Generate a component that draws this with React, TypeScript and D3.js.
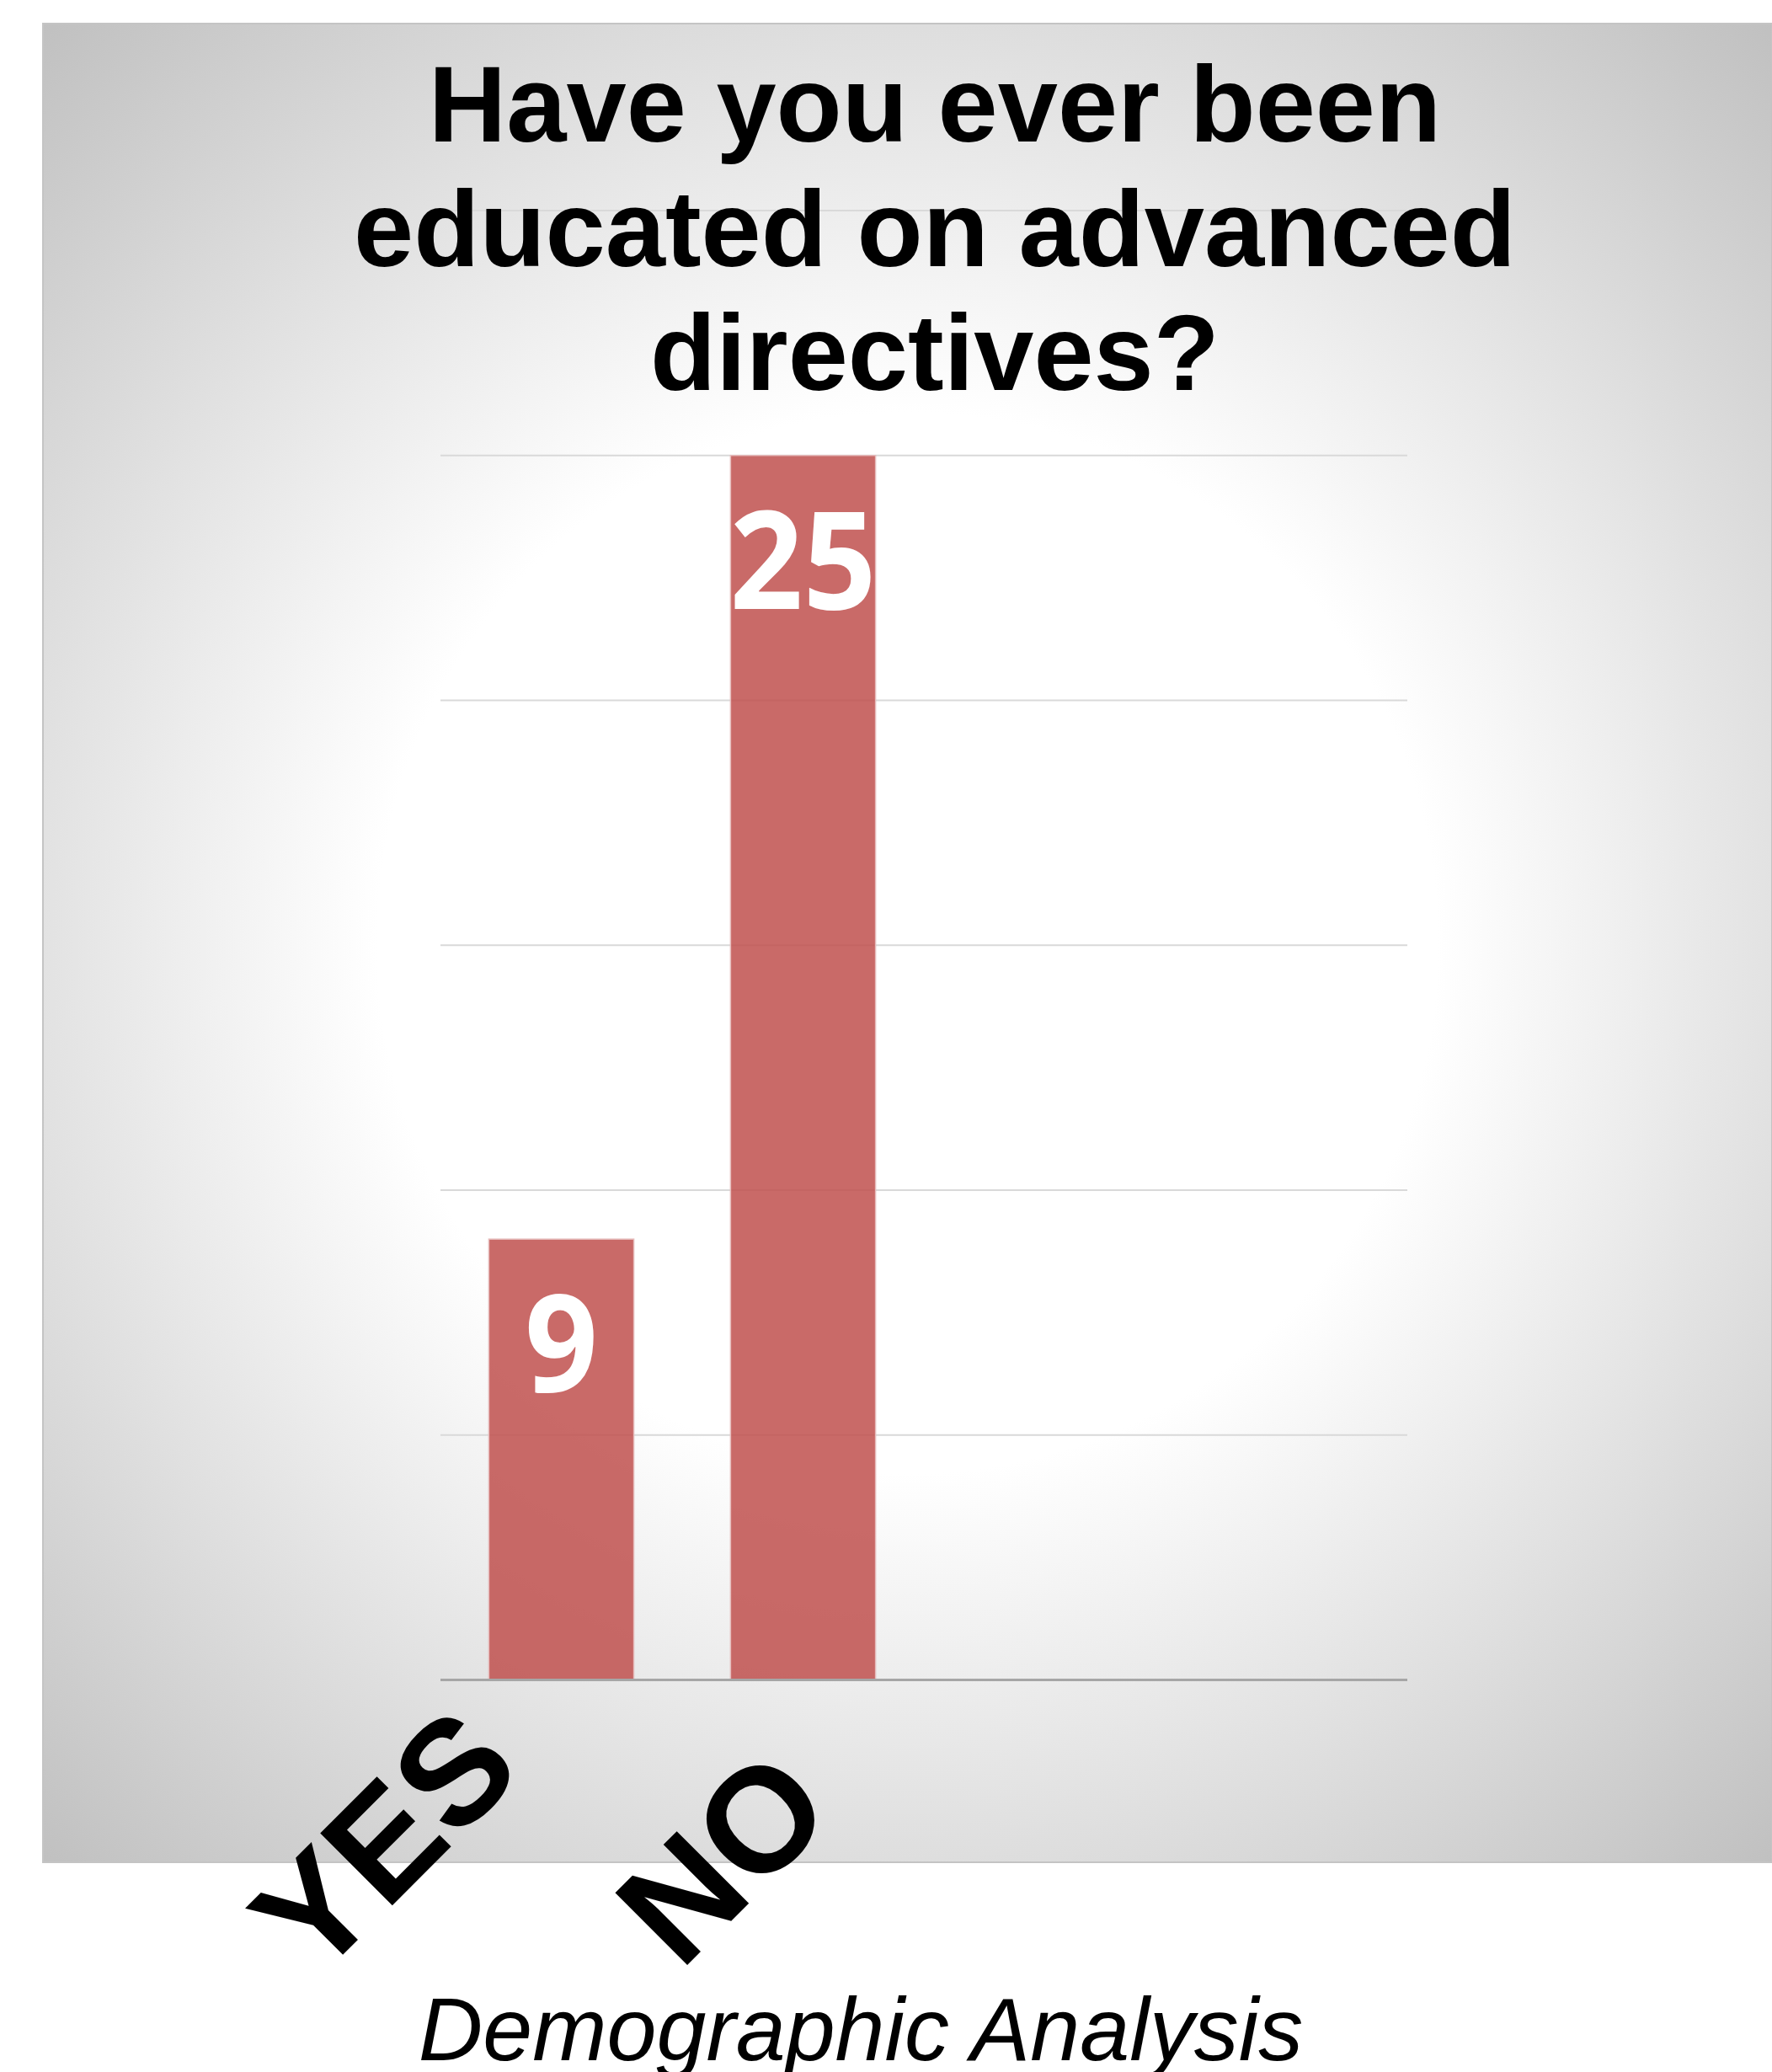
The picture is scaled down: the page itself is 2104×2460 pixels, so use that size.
import React from "react";
import * as d3 from "d3";

// ---- data ----
const categories = ["YES", "NO", "", " "];
const counts = [9, 25];
const titleLines = ["Have you ever been", "educated on advanced", "directives?"];
const yTicks = [0, 5, 10, 15, 20, 25, 30];
const footerText = "Demographic Analysis";

// ---- layout ----
const W = 2104;
const H = 2460;
const panel = { x: 51, y: 28, w: 2104 - 51, h: 2211 - 28 };
const plot = { left: 523, right: 1671, top: 250, bottom: 1994.5 };
// manual placement tweaks of the rotated category labels (as in the source slide)
const labelNudge = [
  { dx: -43, dy: 110 },
  { dx: 41, dy: 160 },
];
const digitAdvance = 87;

export default function App() {
  const x = d3
    .scaleBand<string>()
    .domain(categories)
    .range([plot.left, plot.right])
    .paddingInner(0.4)
    .paddingOuter(0.2);
  const y = d3.scaleLinear().domain([0, 30]).range([plot.bottom, plot.top]);
  const bw = x.bandwidth();

  const cx = (panel.x + panel.x + panel.w) / 2;
  const cy = (panel.y + panel.y + panel.h) / 2;

  return (
    <svg
      width={W}
      height={H}
      viewBox={`0 0 ${W} ${H}`}
      style={{ position: "absolute", left: 0, top: 0, display: "block" }}
    >
      <defs>
        <radialGradient
          id="bg"
          gradientUnits="userSpaceOnUse"
          cx={cx}
          cy={cy}
          r={1500}
        >
          <stop offset="0" stopColor="#ffffff" />
          <stop offset="0.42" stopColor="#ffffff" />
          <stop offset="1" stopColor="#c0c0c0" />
        </radialGradient>
      </defs>
      <rect x={0} y={0} width={W} height={H} fill="#ffffff" />
      <rect
        x={panel.x}
        y={panel.y}
        width={panel.w}
        height={panel.h}
        fill="url(#bg)"
        stroke="#c4c4c4"
        strokeWidth={2}
      />

      {/* gridlines */}
      {yTicks.slice(1).map((t) => (
        <line
          key={t}
          x1={plot.left}
          x2={plot.right}
          y1={y(t)}
          y2={y(t)}
          stroke="#d9d9d9"
          strokeWidth={2}
        />
      ))}

      {/* bars */}
      {counts.map((v, i) => (
        <rect
          key={categories[i]}
          x={x(categories[i])!}
          y={y(v)}
          width={bw}
          height={y(0) - y(v)}
          fill="#C0504D"
          fillOpacity={0.85}
          stroke="#e6bcbc"
          strokeWidth={1.5}
        />
      ))}

      {/* axis line */}
      <line
        x1={plot.left}
        x2={plot.right}
        y1={y(0)}
        y2={y(0)}
        stroke="#a6a6a6"
        strokeWidth={3}
      />

      {/* value labels */}
      {counts.map((v, i) => (
        <text
          key={"v" + i}
          x={x(categories[i])! + bw / 2}
          y={y(v) + 182}
          textAnchor="middle"
          fill="#ffffff"
          fontFamily="'Open Sans', 'Noto Sans', sans-serif"
          fontWeight="bold"
          fontSize={161}
          textLength={String(v).length * digitAdvance}
          lengthAdjust="spacingAndGlyphs"
        >
          {v}
        </text>
      ))}

      {/* category labels */}
      {counts.map((_, i) => {
        const px = x(categories[i])! + bw / 2 + labelNudge[i].dx;
        const py = y(0) + labelNudge[i].dy;
        return (
          <text
            key={"c" + i}
            transform={`translate(${px},${py}) rotate(-45)`}
            textAnchor="end"
            fill="#000000"
            fontFamily="'Liberation Sans', Arial, sans-serif"
            fontWeight="bold"
            fontSize={176}
          >
            {categories[i]}
          </text>
        );
      })}

      {/* title */}
      {titleLines.map((line, i) => (
        <text
          key={"t" + i}
          x={1110}
          y={168 + i * 147.5}
          textAnchor="middle"
          fill="#000000"
          fontFamily="'Liberation Sans', Arial, sans-serif"
          fontWeight="bold"
          fontSize={128}
        >
          {line}
        </text>
      ))}

      {/* footer */}
      <text
        x={1022}
        y={2446}
        textAnchor="middle"
        fill="#000000"
        fontFamily="'Liberation Sans', Arial, sans-serif"
        fontStyle="italic"
        fontSize={106}
      >
        {footerText}
      </text>
    </svg>
  );
}
